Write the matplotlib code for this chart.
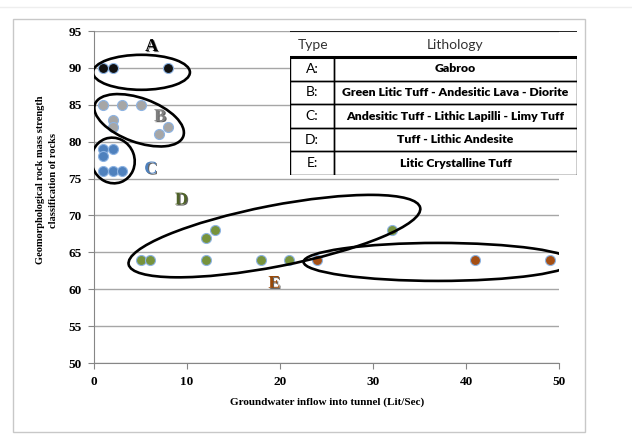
import matplotlib
matplotlib.use("Agg")
import numpy as np
from matplotlib import pyplot as plt
from matplotlib.patches import Ellipse, Rectangle
from matplotlib.transforms import ScaledTranslation
from matplotlib.lines import Line2D
import matplotlib.patheffects as pe

# groundwater inflow (Lit/Sec) vs rock mass strength, per lithology group
a_x = [1, 2, 8]
a_y = [90, 90, 90]
b_x = [1, 3, 5, 2, 2, 8, 7]
b_y = [85, 85, 85, 83, 82, 82, 81]
c_x = [1, 2, 1, 1, 2, 3]
c_y = [79, 79, 78, 76, 76, 76]
d_x = [5, 6, 12, 12, 13, 18, 21, 32]
d_y = [64, 64, 64, 67, 68, 64, 64, 68]
e_x = [24, 41, 49]
e_y = [64, 64, 64]

types = ["A:", "B:", "C:", "D:", "E:"]
lithology = ["Gabroo",
             "Green Litic Tuff - Andesitic Lava - Diorite",
             "Andesitic Tuff - Lithic Lapilli - Limy Tuff",
             "Tuff - Lithic Andesite",
             "Litic Crystalline Tuff"]

x_ticks = [0, 10, 20, 30, 40, 50]
y_ticks = [50, 55, 60, 65, 70, 75, 80, 85, 90, 95]

# group outlines: centre (data units), width/height (pixels), angle (deg)
outlines = [((5.1, 89.4), 97, 35, 0),
            ((4.85, 82.9), 94, 44, -20),
            ((2.05, 77.45), 43, 46, 20),
            ((19.4, 67.2), 297, 61, 11),
            ((37.0, 63.7), 269, 38, 0)]

W, H = 632, 444
fig = plt.figure(figsize=(W / 100, H / 100), dpi=100)

# outer frame
fig.add_artist(Rectangle((13 / W, 1 - 432 / H), (585 - 13) / W, (432 - 19) / H,
                         transform=fig.transFigure, fill=False,
                         edgecolor="#c8c8c8", linewidth=1))
fig.add_artist(Line2D([0, 1], [1 - 7 / H, 1 - 7 / H], transform=fig.transFigure,
                      color="#eeeeee", linewidth=1))

ax = fig.add_axes([94 / W, 1 - 363 / H, (559 - 94) / W, (363 - 31) / H])
ax.set_xlim(0, 50)
ax.set_ylim(50, 95)
ax.set_xticks(x_ticks)
ax.set_yticks(y_ticks)
ax.grid(axis="y", color="#a6a6a6", linewidth=1)
ax.set_axisbelow(True)
for s in ["top", "right"]:
    ax.spines[s].set_visible(False)
for s in ["left", "bottom"]:
    ax.spines[s].set_color("#868686")
ax.tick_params(direction="out", length=4, color="#868686", pad=5)
for lab in ax.get_xticklabels() + ax.get_yticklabels():
    lab.set_fontfamily("Liberation Serif")
    lab.set_fontweight("bold")
    lab.set_fontsize(9.5)

groups = [(a_x, a_y, "#111111"), (b_x, b_y, "#a6a6a6"), (c_x, c_y, "#4f81bd"),
          (d_x, d_y, "#77933c"), (e_x, e_y, "#a54f14")]
for gx, gy, col in groups:
    ax.scatter(gx, gy, s=52, color=col, edgecolors="#8eb4e3", linewidths=0.8,
               zorder=3, clip_on=False)

for (cx, cy), w, h, ang in outlines:
    tr = fig.dpi_scale_trans + ScaledTranslation(cx, cy, ax.transData)
    ax.add_patch(Ellipse((0, 0), w / 100, h / 100, angle=ang, transform=tr,
                         fill=False, edgecolor="black", linewidth=1.9, zorder=4))

letters = [("A", 6.2, 92.9, "#000000"), ("B", 7.1, 83.4, "#7f7f7f"),
           ("C", 6.1, 76.3, "#4f81bd"), ("D", 9.4, 72.1, "#4f6228"),
           ("E", 19.4, 60.8, "#984807")]
for t, tx, ty, col in letters:
    ax.text(tx, ty, t, color=col, fontsize=13, fontweight="bold",
            fontfamily="Liberation Serif", ha="center", va="center", zorder=5,
            path_effects=[pe.withSimplePatchShadow(offset=(0.8, -0.8),
                                                   shadow_rgbFace="#222222", alpha=0.7)])

fig.text(327 / W, 1 - 402 / H, "Groundwater inflow into tunnel (Lit/Sec)",
         ha="center", va="center", fontsize=8, fontweight="bold",
         fontfamily="Liberation Serif")
fig.text(47 / W, 1 - 180 / H, "Geomorphological rock mass strength\nclassification of rocks",
         ha="center", va="center", rotation=90, fontsize=7.5, fontweight="bold",
         fontfamily="Liberation Serif", linespacing=1.5)

# lithology table
tx0, tx1, tdiv = 290, 577, 334
t_top, t_head, t_bot = 31, 57, 175
tab = fig.add_axes([tx0 / W, 1 - t_bot / H, (tx1 - tx0) / W, (t_bot - t_top) / H])
tab.set_xlim(tx0, tx1)
tab.set_ylim(t_bot, t_top)
tab.axis("off")
tab.add_patch(Rectangle((tx0, t_head), tx1 - tx0, t_bot - t_head,
                        facecolor="white", edgecolor="none", zorder=0))
tab.plot([tx0, tx1], [t_top, t_top], color="black", linewidth=1.2)
tab.plot([tx0, tx1], [t_head, t_head], color="black", linewidth=2.2)
tab.text(298, 45, "Type", ha="left", va="center", fontsize=10,
         fontfamily="Lato", color="#333333")
tab.text((tdiv + tx1) / 2, 45, "Lithology", ha="center", va="center", fontsize=10,
         fontfamily="Lato", color="#333333")
rows = np.linspace(t_head, t_bot, len(types) + 1)
for i, (tp, lit) in enumerate(zip(types, lithology)):
    r0, r1 = rows[i], rows[i + 1]
    tab.add_patch(Rectangle((tx0, r0), tdiv - tx0, r1 - r0, fill=False,
                            edgecolor="black", linewidth=1))
    tab.add_patch(Rectangle((tdiv, r0), tx1 - tdiv, r1 - r0, fill=False,
                            edgecolor="black", linewidth=1))
    tab.text((tx0 + tdiv) / 2, (r0 + r1) / 2, tp, ha="center", va="center",
             fontsize=10, fontfamily="Lato")
    tab.text((tdiv + tx1) / 2, (r0 + r1) / 2, lit, ha="center", va="center",
             fontsize=8.8, fontweight="heavy", fontfamily="Lato")

fig.savefig("out.png", dpi=100)
